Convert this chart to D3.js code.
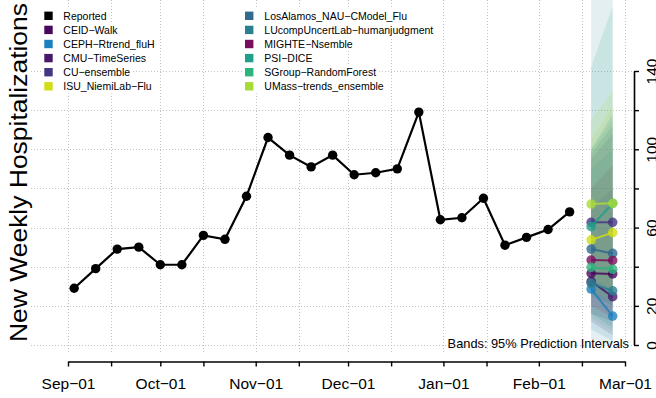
<!DOCTYPE html>
<html><head><meta charset="utf-8">
<script src="https://cdn.jsdelivr.net/npm/d3@7"></script>
<style>
body{margin:0;background:#fff}
svg{display:block}
text{font-family:"Liberation Sans",Arial,Helvetica,sans-serif;fill:#000}
</style>
</head><body>
<svg id="chart" width="656" height="398"></svg>
<script>
// ---------------- DATA ----------------
const obsDates = ["2022-09-03","2022-09-10","2022-09-17","2022-09-24","2022-10-01","2022-10-08",
  "2022-10-15","2022-10-22","2022-10-29","2022-11-05","2022-11-12","2022-11-19","2022-11-26",
  "2022-12-03","2022-12-10","2022-12-17","2022-12-24","2022-12-31","2023-01-07","2023-01-14",
  "2023-01-21","2023-01-28","2023-02-04","2023-02-11"];
const obsValues = [29, 39, 49, 50, 41, 41, 56, 54, 76, 106, 97, 91, 97, 87, 88, 90, 119, 64, 65, 75, 51, 55, 59, 68];

const fcDates = ["2023-02-18","2023-02-25"];
const models = ["CEID-Walk","CEPH-Rtrend_fluH","CMU-TimeSeries","CU-ensemble","ISU_NiemiLab-Flu",
  "LosAlamos_NAU-CModel_Flu","LUcompUncertLab-humanjudgment","MIGHTE-Nsemble","PSI-DICE",
  "SGroup-RandomForest","UMass-trends_ensemble"];
const modelColors = ["#46085c","#1b80bd","#48196b","#453683","#d0dd17","#31698f","#29808e",
  "#7a0e5c","#1fa088","#2db47c","#a9da37"];
// median forecasts [Feb-18, Feb-25]
const fcMedian = [[36.6,36.3],[28.6,14.8],[32.5,24.7],[62.7,62.7],[53.7,57.4],[49,46.8],
  [31.5,27.7],[43.4,43.2],[60.5,72.4],[39.7,38.7],[72,72.4]];
// 95% prediction interval bounds [Feb-18, Feb-25]
const fcLower = [[16,12],[8,2],[12,5],[26,20],[28,22],[16,9],[3,0],[20,14],[25,20],[14,7],[35,28]];
const fcUpper = [[70,80],[90,100],[95,108],[98,112],[105,122],[100,118],[190,240],[80,92],[142,173],[100,115],[115,130]];

const xTickDates = ["2022-09-01","2022-09-15","2022-10-01","2022-10-15","2022-11-01","2022-11-15",
  "2022-12-01","2022-12-15","2023-01-01","2023-01-15","2023-02-01","2023-02-15","2023-03-01"];
const yTicks = [0,20,40,60,80,100,120,140];
const yTickLabels = ["0","20","","60","","100","","140"];
const yLabel = "New Weekly Hospitalizations";
const bandNote = "Bands: 95% Prediction Intervals";

// ---------------- CHART ----------------
const svg = d3.select("#chart");
const parse = d3.utcParse("%Y-%m-%d");
const minus = s => s.replace(/-/g, "\u2212");

const x = d3.scaleUtc().domain([parse("2022-09-01"), parse("2023-03-01")]).range([68, 625]);
const y = d3.scaleLinear().domain([0, 140]).range([345, 71]);

const plotLeft = 31, plotRight = 634, plotTop = 0, plotBottom = 354;

// grid
const grid = svg.append("g").attr("stroke", "#c4c4c4").attr("stroke-width", 1).attr("stroke-dasharray", "1,2");
grid.selectAll("line.v").data(xTickDates).join("line")
  .attr("x1", d => Math.round(x(parse(d))) + 0.5).attr("x2", d => Math.round(x(parse(d))) + 0.5)
  .attr("y1", plotTop).attr("y2", plotBottom);
grid.selectAll("line.h").data(yTicks).join("line")
  .attr("x1", plotLeft).attr("x2", plotRight)
  .attr("y1", d => Math.round(y(d)) + 0.5).attr("y2", d => Math.round(y(d)) + 0.5);

// legend
const legendEntries = [{name: "Reported", color: "#000"}].concat(models.map((m, i) => ({name: m, color: modelColors[i]})));
const lg = svg.append("g").style("font-size", "10.5px");
legendEntries.forEach((e, i) => {
  const col = Math.floor(i / 6), row = i % 6;
  const sx = col === 0 ? 44.3 : 245, tx = col === 0 ? 63.3 : 264.3;
  const cy = 15.8 + row * 14.1;
  const g = lg.append("g");
  const bg = g.append("rect").attr("fill", "#fff");
  g.append("rect").attr("x", sx).attr("y", cy - 4.2).attr("width", 8.4).attr("height", 8.4).attr("fill", e.color);
  const t = g.append("text").attr("x", tx).attr("y", cy).attr("dy", "0.36em").text(minus(e.name));
  const w = t.node().getComputedTextLength();
  bg.attr("x", sx - 1).attr("y", cy - 7.05).attr("width", tx + w + 1 - (sx - 1)).attr("height", 14.1);
});

// forecast bands
const fx = fcDates.map(parse);
const bands = svg.append("g");
models.forEach((m, i) => {
  const pts = fx.map((d, j) => ({d, lo: fcLower[i][j], hi: fcUpper[i][j]}));
  bands.append("path")
    .attr("d", d3.area().x(p => x(p.d)).y0(p => y(p.lo)).y1(p => y(p.hi))(pts))
    .attr("fill", modelColors[i]).attr("fill-opacity", 0.13);
});

// forecast medians
const fcg = svg.append("g");
models.forEach((m, i) => {
  const pts = fx.map((d, j) => ({d, v: fcMedian[i][j]}));
  fcg.append("path").attr("d", d3.line().x(p => x(p.d)).y(p => y(p.v))(pts))
    .attr("fill", "none").attr("stroke", modelColors[i]).attr("stroke-width", 2).attr("stroke-opacity", 0.85);
  fcg.selectAll(null).data(pts).join("circle")
    .attr("cx", p => x(p.d)).attr("cy", p => y(p.v)).attr("r", 4.8)
    .attr("fill", modelColors[i]).attr("fill-opacity", 0.8);
});

// observed
const obs = obsDates.map((d, i) => ({d: parse(d), v: obsValues[i]}));
svg.append("path").attr("d", d3.line().x(p => x(p.d)).y(p => y(p.v))(obs))
  .attr("fill", "none").attr("stroke", "#000").attr("stroke-width", 2.2);
svg.append("g").selectAll("circle").data(obs).join("circle")
  .attr("cx", p => x(p.d)).attr("cy", p => y(p.v)).attr("r", 4.7).attr("fill", "#000");

// band note
svg.append("text").attr("x", 629).attr("y", 347.5).attr("text-anchor", "end")
  .style("font-size", "12.8px").text(bandNote);

// x axis
const xAxis = d3.axisBottom(x).tickValues(xTickDates.map(parse)).tickSize(5).tickSizeOuter(0)
  .tickFormat(d => d.getUTCDate() === 1 ? minus(d3.utcFormat("%b-%d")(d)) : "");
const gx = svg.append("g").attr("transform", "translate(0,361.5)").call(xAxis);
gx.select(".domain").attr("stroke-width", 1.6);
gx.selectAll(".tick line").attr("stroke-width", 1.4);
gx.selectAll("text").style("font-size", "15.5px").style("font-family", '"Liberation Sans",Arial,sans-serif')
  .attr("y", 22).attr("dy", "0.35em").attr("fill", "#000");

// y axis (right)
const yAxis = d3.axisRight(y).tickValues(yTicks).tickSize(5).tickSizeOuter(0)
  .tickFormat((d, i) => yTickLabels[i]);
const gy = svg.append("g").attr("transform", "translate(634,0)").call(yAxis);
gy.select(".domain").attr("stroke-width", 1.6);
gy.selectAll(".tick line").attr("stroke-width", 1.4);
gy.selectAll("text").style("font-size", "15.5px").style("font-family", '"Liberation Sans",Arial,sans-serif')
  .attr("transform", "rotate(-90)").attr("x", 0).attr("y", 22.5).attr("dy", 0)
  .attr("text-anchor", "middle").attr("fill", "#000");

// y label
svg.append("text").attr("transform", "translate(27,172.5) rotate(-90)").attr("text-anchor", "middle")
  .style("font-size", "23.5px").attr("textLength", 339).attr("lengthAdjust", "spacingAndGlyphs")
  .text(yLabel);
</script>
</body></html>
